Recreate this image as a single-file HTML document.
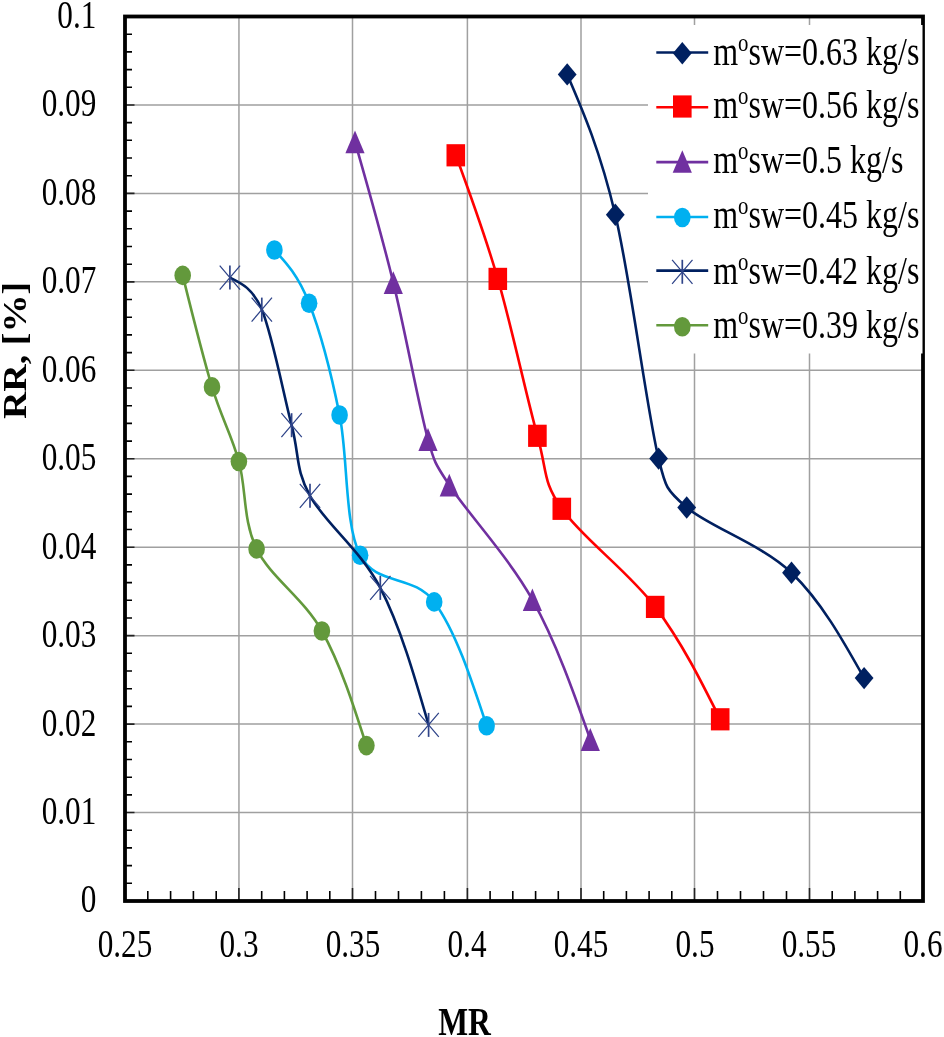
<!DOCTYPE html>
<html><head><meta charset="utf-8"><style>
html,body{margin:0;padding:0;background:#fff;}
svg{display:block;will-change:transform;}
text{font-family:"Liberation Serif",serif;}
</style></head><body>
<svg width="944" height="1037" viewBox="0 0 944 1037">
<rect width="944" height="1037" fill="#fff"/>
<path d="M238.95,16.5V901.0 M352.50,16.5V901.0 M467.40,16.5V901.0 M581.00,16.5V901.0 M694.50,16.5V901.0 M809.50,16.5V901.0 M125.0,812.5H923.0 M125.0,724.1H923.0 M125.0,635.7H923.0 M125.0,547.2H923.0 M125.0,458.8H923.0 M125.0,370.3H923.0 M125.0,281.8H923.0 M125.0,193.4H923.0 M125.0,105.0H923.0" stroke="#A0A0A0" stroke-width="1.5" fill="none"/>
<path d="M147.8,901.0V891.0 M170.6,901.0V891.0 M193.4,901.0V891.0 M216.2,901.0V891.0 M261.7,901.0V891.0 M284.4,901.0V891.0 M307.1,901.0V891.0 M329.8,901.0V891.0 M375.5,901.0V891.0 M398.5,901.0V891.0 M421.4,901.0V891.0 M444.4,901.0V891.0 M490.1,901.0V891.0 M512.8,901.0V891.0 M535.6,901.0V891.0 M558.3,901.0V891.0 M603.7,901.0V891.0 M626.4,901.0V891.0 M649.1,901.0V891.0 M671.8,901.0V891.0 M717.5,901.0V891.0 M740.5,901.0V891.0 M763.5,901.0V891.0 M786.5,901.0V891.0 M832.2,901.0V891.0 M854.9,901.0V891.0 M877.6,901.0V891.0 M900.3,901.0V891.0 M125.0,883.3H132.0 M125.0,865.6H132.0 M125.0,847.9H132.0 M125.0,830.2H132.0 M125.0,794.9H132.0 M125.0,777.2H132.0 M125.0,759.5H132.0 M125.0,741.8H132.0 M125.0,706.4H132.0 M125.0,688.7H132.0 M125.0,671.0H132.0 M125.0,653.3H132.0 M125.0,618.0H132.0 M125.0,600.3H132.0 M125.0,582.6H132.0 M125.0,564.9H132.0 M125.0,529.5H132.0 M125.0,511.8H132.0 M125.0,494.1H132.0 M125.0,476.4H132.0 M125.0,441.1H132.0 M125.0,423.4H132.0 M125.0,405.7H132.0 M125.0,388.0H132.0 M125.0,352.6H132.0 M125.0,334.9H132.0 M125.0,317.2H132.0 M125.0,299.5H132.0 M125.0,264.2H132.0 M125.0,246.5H132.0 M125.0,228.8H132.0 M125.0,211.1H132.0 M125.0,175.7H132.0 M125.0,158.0H132.0 M125.0,140.3H132.0 M125.0,122.6H132.0 M125.0,87.3H132.0 M125.0,69.6H132.0 M125.0,51.9H132.0 M125.0,34.2H132.0" stroke="#000" stroke-width="1.6" fill="none"/>
<path d="M238.9,901.0V888.0 M352.5,901.0V888.0 M467.4,901.0V888.0 M581.0,901.0V888.0 M694.5,901.0V888.0 M809.5,901.0V888.0 M125.0,812.55H134.5 M125.0,724.10H134.5 M125.0,635.65H134.5 M125.0,547.20H134.5 M125.0,458.75H134.5 M125.0,370.30H134.5 M125.0,281.85H134.5 M125.0,193.40H134.5 M125.0,104.95H134.5" stroke="#222" stroke-width="1.6" fill="none"/>
<path d="M567.20,74.40 C583.63,112.53 600.07,150.67 615.30,214.70 C630.53,278.73 646.70,409.80 658.60,458.60 C665.28,486.00 665.31,489.12 686.70,507.50 C708.85,526.53 761.93,544.37 791.50,572.80 C821.07,601.23 842.58,639.67 864.10,678.10" stroke="#002060" stroke-width="2.6" fill="none" stroke-linejoin="round"/>
<path d="M567.2,63.2 L576.6,74.4 L567.2,85.6 L557.8,74.4Z" fill="#002060"/>
<path d="M615.3,203.5 L624.7,214.7 L615.3,225.9 L605.9,214.7Z" fill="#002060"/>
<path d="M658.6,447.4 L668.0,458.6 L658.6,469.8 L649.2,458.6Z" fill="#002060"/>
<path d="M686.7,496.3 L696.1,507.5 L686.7,518.7 L677.3,507.5Z" fill="#002060"/>
<path d="M791.5,561.6 L800.9,572.8 L791.5,584.0 L782.1,572.8Z" fill="#002060"/>
<path d="M864.1,666.9 L873.5,678.1 L864.1,689.3 L854.7,678.1Z" fill="#002060"/>
<path d="M455.80,155.30 C470.00,193.72 484.20,232.15 497.80,278.90 C511.40,325.65 526.73,397.48 537.40,435.80 C547.72,472.88 542.17,480.28 561.80,508.80 C581.43,537.32 628.80,571.82 655.20,606.90 C681.60,641.98 700.90,680.64 720.20,719.30" stroke="#FF0000" stroke-width="2.6" fill="none" stroke-linejoin="round"/>
<rect x="446.5" y="144.2" width="18.6" height="22.2" fill="#FF0000"/>
<rect x="488.5" y="267.8" width="18.6" height="22.2" fill="#FF0000"/>
<rect x="528.1" y="424.7" width="18.6" height="22.2" fill="#FF0000"/>
<rect x="552.5" y="497.7" width="18.6" height="22.2" fill="#FF0000"/>
<rect x="645.9" y="595.8" width="18.6" height="22.2" fill="#FF0000"/>
<rect x="710.9" y="708.2" width="18.6" height="22.2" fill="#FF0000"/>
<path d="M355.00,141.80 C368.07,187.39 381.13,232.98 393.30,282.60 C405.47,332.22 418.67,405.73 428.00,439.50 C434.72,463.80 435.54,464.08 449.30,485.20 C466.70,511.90 508.90,557.32 532.40,599.70 C555.90,642.08 573.10,690.79 590.30,739.50" stroke="#7030A0" stroke-width="2.6" fill="none" stroke-linejoin="round"/>
<path d="M355.0,130.5 L364.6,153.2 L345.4,153.2Z" fill="#7030A0"/>
<path d="M393.3,271.2 L402.9,294.0 L383.7,294.0Z" fill="#7030A0"/>
<path d="M428.0,428.1 L437.6,450.9 L418.4,450.9Z" fill="#7030A0"/>
<path d="M449.3,473.8 L458.9,496.6 L439.7,496.6Z" fill="#7030A0"/>
<path d="M532.4,588.4 L542.0,611.1 L522.8,611.1Z" fill="#7030A0"/>
<path d="M590.3,728.1 L599.9,750.9 L580.7,750.9Z" fill="#7030A0"/>
<path d="M274.40,250.00 C286.32,262.85 298.23,275.70 309.10,303.20 C319.97,330.70 331.10,373.00 339.60,415.00 C348.10,457.00 344.33,524.05 360.10,555.20 C375.87,586.35 413.12,573.48 434.20,601.90 C455.28,630.32 470.94,678.01 486.60,725.70" stroke="#00B0F0" stroke-width="2.6" fill="none" stroke-linejoin="round"/>
<ellipse cx="274.4" cy="250.0" rx="8.3" ry="9.8" fill="#00B0F0"/>
<ellipse cx="309.1" cy="303.2" rx="8.3" ry="9.8" fill="#00B0F0"/>
<ellipse cx="339.6" cy="415.0" rx="8.3" ry="9.8" fill="#00B0F0"/>
<ellipse cx="360.1" cy="555.2" rx="8.3" ry="9.8" fill="#00B0F0"/>
<ellipse cx="434.2" cy="601.9" rx="8.3" ry="9.8" fill="#00B0F0"/>
<ellipse cx="486.6" cy="725.7" rx="8.3" ry="9.8" fill="#00B0F0"/>
<path d="M229.90,277.60 C241.49,283.18 253.09,288.76 261.80,309.60 C272.08,334.20 283.57,394.17 291.60,425.20 C299.63,456.23 295.22,468.68 310.00,495.80 C324.78,522.92 360.53,549.72 380.30,587.90 C400.07,626.08 414.33,675.49 428.60,724.90" stroke="#002060" stroke-width="2.6" fill="none" stroke-linejoin="round"/>
<path d="M219.7,265.6 L240.1,289.6 M240.1,265.6 L219.7,289.6" stroke="#2F4489" stroke-width="1.25" fill="none"/><path d="M229.9,265.6 V289.6" stroke="#2F4489" stroke-width="1.7" fill="none"/>
<path d="M251.6,297.6 L272.0,321.6 M272.0,297.6 L251.6,321.6" stroke="#2F4489" stroke-width="1.25" fill="none"/><path d="M261.8,297.6 V321.6" stroke="#2F4489" stroke-width="1.7" fill="none"/>
<path d="M281.4,413.2 L301.8,437.2 M301.8,413.2 L281.4,437.2" stroke="#2F4489" stroke-width="1.25" fill="none"/><path d="M291.6,413.2 V437.2" stroke="#2F4489" stroke-width="1.7" fill="none"/>
<path d="M299.8,483.8 L320.2,507.8 M320.2,483.8 L299.8,507.8" stroke="#2F4489" stroke-width="1.25" fill="none"/><path d="M310.0,483.8 V507.8" stroke="#2F4489" stroke-width="1.7" fill="none"/>
<path d="M370.1,575.9 L390.5,599.9 M390.5,575.9 L370.1,599.9" stroke="#2F4489" stroke-width="1.25" fill="none"/><path d="M380.3,575.9 V599.9" stroke="#2F4489" stroke-width="1.7" fill="none"/>
<path d="M418.4,712.9 L438.8,736.9 M438.8,712.9 L418.4,736.9" stroke="#2F4489" stroke-width="1.25" fill="none"/><path d="M428.6,712.9 V736.9" stroke="#2F4489" stroke-width="1.7" fill="none"/>
<path d="M182.70,275.40 C192.67,315.64 202.63,355.88 212.00,386.90 C221.37,417.92 231.47,434.50 238.90,461.50 C246.33,488.50 242.77,520.65 256.60,548.90 C270.43,577.15 303.60,598.22 321.90,631.00 C340.20,663.78 353.30,704.69 366.40,745.60" stroke="#63993C" stroke-width="2.6" fill="none" stroke-linejoin="round"/>
<ellipse cx="182.7" cy="275.4" rx="8.3" ry="9.8" fill="#63993C"/>
<ellipse cx="212.0" cy="386.9" rx="8.3" ry="9.8" fill="#63993C"/>
<ellipse cx="238.9" cy="461.5" rx="8.3" ry="9.8" fill="#63993C"/>
<ellipse cx="256.6" cy="548.9" rx="8.3" ry="9.8" fill="#63993C"/>
<ellipse cx="321.9" cy="631.0" rx="8.3" ry="9.8" fill="#63993C"/>
<ellipse cx="366.4" cy="745.6" rx="8.3" ry="9.8" fill="#63993C"/>
<rect x="125" y="16.5" width="798" height="884.5" fill="none" stroke="#000" stroke-width="3.8"/>
<rect x="648" y="25" width="274.5" height="328.5" fill="#fff"/>
<path d="M656.3,52.5H708.2" stroke="#002060" stroke-width="2.6"/>
<path d="M682.3,42.1 L691.7,53.3 L682.3,64.5 L672.9,53.3Z" fill="#002060"/>
<text transform="translate(713.2,65.1) scale(0.80,1)" font-size="40">m<tspan font-size="26" dy="-14">o</tspan><tspan dy="14">sw=0.63 kg/s</tspan></text>
<path d="M656.3,107.2H708.2" stroke="#FF0000" stroke-width="2.6"/>
<rect x="673.0" y="95.4" width="18.6" height="22.2" fill="#FF0000"/>
<text transform="translate(713.2,118.4) scale(0.80,1)" font-size="40">m<tspan font-size="26" dy="-14">o</tspan><tspan dy="14">sw=0.56 kg/s</tspan></text>
<path d="M656.3,162.1H708.2" stroke="#7030A0" stroke-width="2.6"/>
<path d="M682.3,150.2 L691.9,172.8 L672.7,172.8Z" fill="#7030A0"/>
<text transform="translate(713.2,173.1) scale(0.80,1)" font-size="40">m<tspan font-size="26" dy="-14">o</tspan><tspan dy="14">sw=0.5 kg/s</tspan></text>
<path d="M656.3,217.0H708.2" stroke="#00B0F0" stroke-width="2.6"/>
<ellipse cx="682.3" cy="217.5" rx="8.3" ry="9.8" fill="#00B0F0"/>
<text transform="translate(713.2,227.9) scale(0.80,1)" font-size="40">m<tspan font-size="26" dy="-14">o</tspan><tspan dy="14">sw=0.45 kg/s</tspan></text>
<path d="M656.3,270.6H708.2" stroke="#002060" stroke-width="2.6"/>
<path d="M672.1,259.8 L692.5,283.8 M692.5,259.8 L672.1,283.8" stroke="#2F4489" stroke-width="1.25" fill="none"/><path d="M682.3,259.8 V283.8" stroke="#2F4489" stroke-width="1.7" fill="none"/>
<text transform="translate(713.2,283.5) scale(0.80,1)" font-size="40">m<tspan font-size="26" dy="-14">o</tspan><tspan dy="14">sw=0.42 kg/s</tspan></text>
<path d="M656.3,325.3H708.2" stroke="#63993C" stroke-width="2.6"/>
<ellipse cx="682.3" cy="326.8" rx="8.3" ry="9.8" fill="#63993C"/>
<text transform="translate(713.2,338.3) scale(0.80,1)" font-size="40">m<tspan font-size="26" dy="-14">o</tspan><tspan dy="14">sw=0.39 kg/s</tspan></text>
<text transform="translate(96.3,912.4) scale(0.78,1)" font-size="40" text-anchor="end">0</text>
<text transform="translate(96.3,823.9) scale(0.78,1)" font-size="40" text-anchor="end">0.01</text>
<text transform="translate(96.3,735.5) scale(0.78,1)" font-size="40" text-anchor="end">0.02</text>
<text transform="translate(96.3,647.1) scale(0.78,1)" font-size="40" text-anchor="end">0.03</text>
<text transform="translate(96.3,558.6) scale(0.78,1)" font-size="40" text-anchor="end">0.04</text>
<text transform="translate(96.3,470.1) scale(0.78,1)" font-size="40" text-anchor="end">0.05</text>
<text transform="translate(96.3,381.7) scale(0.78,1)" font-size="40" text-anchor="end">0.06</text>
<text transform="translate(96.3,293.2) scale(0.78,1)" font-size="40" text-anchor="end">0.07</text>
<text transform="translate(96.3,204.8) scale(0.78,1)" font-size="40" text-anchor="end">0.08</text>
<text transform="translate(96.3,116.4) scale(0.78,1)" font-size="40" text-anchor="end">0.09</text>
<text transform="translate(96.3,27.9) scale(0.78,1)" font-size="40" text-anchor="end">0.1</text>
<text transform="translate(125.0,957) scale(0.78,1)" font-size="40" text-anchor="middle">0.25</text>
<text transform="translate(239.0,957) scale(0.78,1)" font-size="40" text-anchor="middle">0.3</text>
<text transform="translate(353.0,957) scale(0.78,1)" font-size="40" text-anchor="middle">0.35</text>
<text transform="translate(467.0,957) scale(0.78,1)" font-size="40" text-anchor="middle">0.4</text>
<text transform="translate(581.0,957) scale(0.78,1)" font-size="40" text-anchor="middle">0.45</text>
<text transform="translate(695.0,957) scale(0.78,1)" font-size="40" text-anchor="middle">0.5</text>
<text transform="translate(809.0,957) scale(0.78,1)" font-size="40" text-anchor="middle">0.55</text>
<text transform="translate(923.0,957) scale(0.78,1)" font-size="40" text-anchor="middle">0.6</text>
<text transform="translate(464.5,1035) scale(0.79,1)" font-size="40" font-weight="bold" text-anchor="middle">MR</text>
<text transform="translate(25.5,350.5) rotate(-90) scale(1,0.87)" font-size="38" font-weight="bold" text-anchor="middle">RR, [%]</text>
</svg></body></html>
